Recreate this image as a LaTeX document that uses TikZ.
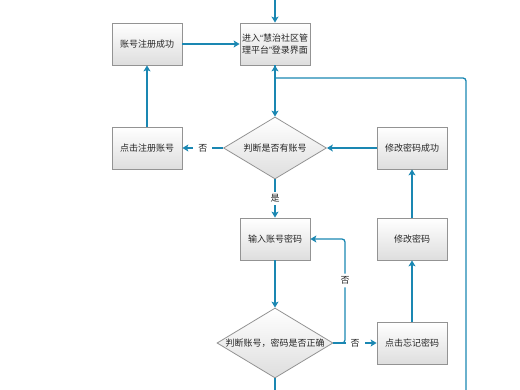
\documentclass[tikz,border=0pt]{standalone}
\usepackage{fontspec}
\newfontfamily\cjk{Noto Sans CJK SC}
\newfontfamily\latin{Liberation Sans}
\usetikzlibrary{shapes.geometric,arrows.meta}
\definecolor{flowblue}{HTML}{1A87B2}
\definecolor{boxline}{HTML}{939393}
\definecolor{txtgray}{HTML}{262626}
\begin{document}
\begin{tikzpicture}[x=1pt,y=-1pt,
  font=\cjk\fontsize{9}{12}\selectfont, text=txtgray,
  stepbox/.style={draw=boxline, line width=0.8pt, top color=white, bottom color=black!13,
    minimum width=70pt, minimum height=42pt, inner sep=1pt, align=center},
  decision/.style={diamond, draw=boxline, line width=0.8pt, top color=white, bottom color=black!13,
    inner sep=0pt},
  flow/.style={draw=flowblue, line width=1.3pt, -{Stealth[length=6pt,width=7pt,inset=1.5pt]}},
  wire/.style={draw=flowblue, line width=1.3pt},
  lbl/.style={fill=white, inner sep=5pt}]
\useasboundingbox (0,0) rectangle (520,390);
% boxes
\node[stepbox] (regok) at (147,44) {账号注册成功};
\node[stepbox, text width=66pt] (login) at (275,44) {进入{\latin“}慧治社区管\\理平台{\latin”}登录界面};
\node[stepbox] (reg) at (147,148) {点击注册账号};
\node[stepbox] (pwdok) at (412,148) {修改密码成功};
\node[stepbox] (input) at (275,239) {输入账号密码};
\node[stepbox] (pwdchg) at (412,239) {修改密码};
\node[stepbox] (forget) at (412,343) {点击忘记密码};
% decisions
\node[decision, minimum width=103pt, minimum height=62pt,
  label={center:判断是否有账号}] (hasacc) at (275,148) {};
\node[decision, minimum width=116pt, minimum height=70pt,
  label={center:判断账号，密码是否正确}] (check) at (275,343) {};
% free ends
\coordinate (top) at (275,0);
\coordinate (down) at (275,390);
\coordinate (back) at (466,390);
\coordinate (join) at (275,78);
% connectors
\draw[flow] (top) -- (login.north);
\draw[flow] (regok) -- (login);
\draw[flow] (login.south) -- (hasacc.north);
\draw[flow] (hasacc.west) -- node[lbl]{否} (reg.east);
\draw[flow] (reg.north) -- (regok.south);
\draw[flow] (pwdok.west) -- (hasacc.east);
\draw[flow] (hasacc.south) -- node[lbl, inner sep=3pt]{是} (input.north);
\draw[flow] (input.south) -- (check.north);
\draw[flow, rounded corners=3pt] (check.east) -- (345,343) |- node[pos=0.3, lbl, inner sep=3pt]{否} (input.east);
\draw[flow] (check.east) -- node[lbl]{否} (forget.west);
\draw[flow] (forget.north) -- (pwdchg.south);
\draw[flow] (pwdchg.north) -- (pwdok.south);
\draw[wire] (check.south) -- (down);
\draw[wire, rounded corners=3pt] (back) |- (join);
\draw[flow] (join) -- (login.south);
\end{tikzpicture}
\end{document}
